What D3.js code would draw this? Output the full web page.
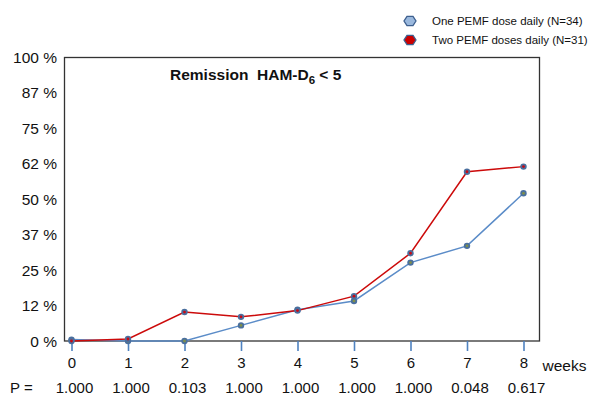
<!DOCTYPE html>
<html><head><meta charset="utf-8">
<script src="https://cdn.jsdelivr.net/npm/d3@7"></script>
<style>body{margin:0;background:#fff}svg{display:block;font-family:"Liberation Sans",Arial,sans-serif}</style>
</head><body><svg id="c" width="592" height="402"></svg>
<script>
const weeks = [0,1,2,3,4,5,6,7,8];
const oneDose = [0.5, 0, 0, 5.5, 11, 14.1, 27.6, 33.5, 52];
const twoDose = [0, 0.7, 10.2, 8.5, 10.7, 15.8, 30.9, 59.6, 61.4];
const pValues = ["1.000","1.000","0.103","1.000","1.000","1.000","1.000","0.048","0.617"];
const yTicks = [0,12.5,25,37.5,50,62.5,75,87.5,100];
const yTickLabels = ["0 %","12 %","25 %","37 %","50 %","62 %","75 %","87 %","100 %"];
const seriesNames = ["One PEMF dose daily (N=34)","Two PEMF doses daily (N=31)"];

const svg = d3.select("#c");
const x = d3.scaleLinear().domain([0,8]).range([71.5,523.5]);
const y = d3.scaleLinear().domain([0,100]).range([341,57]);

// frame
svg.append("rect").attr("x",64.5).attr("y",57.5).attr("width",475).attr("height",283.5)
  .attr("fill","none").attr("stroke","#333").attr("stroke-width",1.3);

// y axis labels
const yAxis = d3.axisLeft(y).tickValues(yTicks).tickSize(0).tickPadding(0)
  .tickFormat((d,i)=>yTickLabels[i]);
const ya = svg.append("g").attr("transform","translate(57,0)").call(yAxis);
ya.select(".domain").remove();
ya.selectAll("text").attr("font-size",15.5).attr("fill","#111").attr("font-family","Liberation Sans, Arial, sans-serif").attr("dy","0.35em");

// x axis with blue ticks
const xAxis = d3.axisBottom(x).tickValues(weeks).tickSize(10).tickPadding(6).tickFormat(d3.format("d"));
const xa = svg.append("g").attr("transform","translate(0,341)").call(xAxis);
xa.select(".domain").remove();
xa.selectAll("line").attr("stroke","#4f82c0").attr("stroke-width",1.6);
xa.selectAll("text").attr("font-size",15).attr("fill","#111").attr("font-family","Liberation Sans, Arial, sans-serif");
svg.append("text").attr("x",x(8)+19).attr("y",371).attr("font-size",15.5).attr("fill","#111").text("weeks");

// P row
svg.append("text").attr("x",10).attr("y",393).attr("font-size",15).attr("fill","#111").text("P =");
svg.selectAll("text.p").data(pValues).join("text").attr("class","p")
  .attr("x",(d,i)=>x(weeks[i])+3).attr("y",393).attr("text-anchor","middle")
  .attr("font-size",15).attr("fill","#111").text(d=>d);

// title
const t = svg.append("text").attr("x",170).attr("y",80).attr("font-size",15.5).attr("font-weight","bold").attr("fill","#111").style("white-space","pre");
t.append("tspan").text("Remission  HAM-D");
t.append("tspan").attr("dy",4).attr("font-size",11.5).text("6");
t.append("tspan").attr("dy",-4).text(" < 5");

// lines
const line = d3.line().x((d,i)=>x(weeks[i])).y(d=>y(d));
svg.append("path").datum(oneDose).attr("d",line).attr("fill","none").attr("stroke","#5b8cc8").attr("stroke-width",1.5);
svg.append("path").datum(twoDose).attr("d",line).attr("fill","none").attr("stroke","#cc0a0a").attr("stroke-width",1.5);

// markers
function markers(data, inner){
  const g = svg.append("g");
  g.selectAll("circle.o").data(data).join("circle").attr("class","o")
    .attr("cx",(d,i)=>x(weeks[i])).attr("cy",d=>y(d)).attr("r",3.2).attr("fill","#4a6f9e");
  g.selectAll("circle.i").data(data).join("circle").attr("class","i")
    .attr("cx",(d,i)=>x(weeks[i])).attr("cy",d=>y(d)).attr("r",1.4).attr("fill",inner);
}
markers(oneDose,"#7f8f4a");
markers(twoDose,"#c80a14");

// legend
const hex = (cx,cy,r)=>{const pts=[];for(let k=0;k<6;k++){const a=Math.PI/3*k;pts.push([cx+r*Math.cos(a),cy+r*0.9*Math.sin(a)]);}return pts.map(p=>p.join(",")).join(" ");};
const legFill = ["#9ab8dd","#cc0000"];
seriesNames.forEach((n,i)=>{
  const cy = 21 + i*19;
  svg.append("polygon").attr("points",hex(410,cy,6)).attr("fill",legFill[i]).attr("stroke","#3d5f8e").attr("stroke-width",1.3);
  svg.append("text").attr("x",432).attr("y",cy+4).attr("font-size",11.5).attr("fill","#111").text(n);
});
</script></body></html>
